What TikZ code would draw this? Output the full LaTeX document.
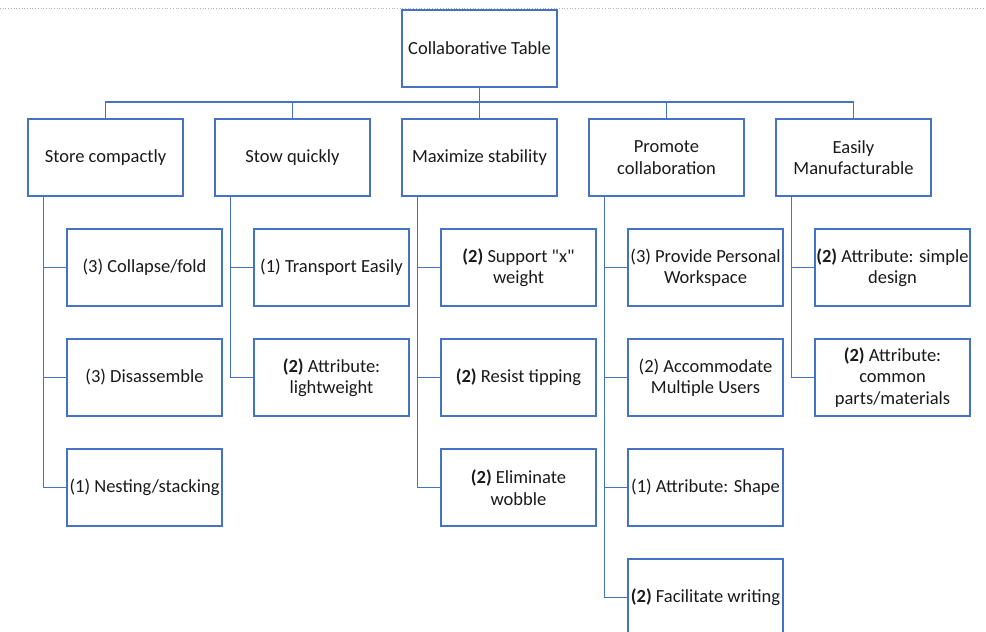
\documentclass[tikz,border=0pt]{standalone}
\usepackage{fontspec}
\setmainfont{Carlito}[Ligatures=TeXOff]
\definecolor{boxblue}{HTML}{4472C4}
\definecolor{txt}{HTML}{1A1A1A}
\begin{document}
\begin{tikzpicture}[x=1pt,y=-1pt,
  box/.style={draw=boxblue, line width=1.3pt, fill=white, rectangle, minimum width=155pt, minimum height=77pt,
    align=center, inner sep=1pt, text=txt, font=\fontsize{18.5}{21.5}\selectfont},
  link/.style={draw=boxblue, line width=1.3pt}]
\useasboundingbox (0,0) rectangle (986,632);
\clip (0,0) rectangle (986,632);
\draw[black!30, line width=0.7pt, dotted] (0,8) -- (986,8);
% root
\node[box] (root) at (479.5,48.5) {Collaborative Table};
% children
\node[box] (c1) at (105.5,157.5) {Store compactly};
\node[box] (c2) at (292.5,157.5) {Stow quickly};
\node[box] (c3) at (479.5,157.5) {Maximize stability};
\node[box] (c4) at (666.5,157.5) {Promote\\collaboration};
\node[box] (c5) at (853.5,157.5) {Easily\\Manufacturable};
% grandchildren
\node[box] (g11) at (144.5,267.5) {(3) Collapse/fold};
\node[box] (g12) at (144.5,377.5) {(3) Disassemble};
\node[box] (g13) at (144.5,487.5) {(1) Nesting/stacking};
\node[box] (g21) at (331.5,267.5) {(1) Transport Easily};
\node[box] (g22) at (331.5,377.5) {\textbf{(2)} Attribute:\\lightweight};
\node[box] (g31) at (518.5,267.5) {\textbf{(2)} Support "x"\\weight};
\node[box] (g32) at (518.5,377.5) {\textbf{(2)} Resist tipping};
\node[box] (g33) at (518.5,487.5) {\textbf{(2)} Eliminate\\wobble};
\node[box] (g41) at (705.5,267.5) {(3) Provide Personal\\Workspace};
\node[box] (g42) at (705.5,377.5) {(2) Accommodate\\Multiple Users};
\node[box] (g43) at (705.5,487.5) {(1) Attribute: Shape};
\node[box] (g44) at (705.5,597.5) {\textbf{(2)} Facilitate writing};
\node[box] (g51) at (892.5,267.5) {\textbf{(2)} Attribute: simple\\design};
\node[box] (g52) at (892.5,377.5) {\textbf{(2)} Attribute:\\common\\parts/materials};
% bus
\coordinate (bus) at (479.5,102);
\draw[link] (root.south) -- (bus);
\foreach \c in {c1,c2,c3,c4,c5} {\draw[link] (bus) -| (\c.north);}
% child to grandchild connectors
\foreach \c/\gs in {c1/{g11,g12,g13}, c2/{g21,g22}, c3/{g31,g32,g33}, c4/{g41,g42,g43,g44}, c5/{g51,g52}} {
  \foreach \g in \gs {\draw[link] ([xshift=16pt]\c.south west) |- (\g.west);}
}
\end{tikzpicture}
\end{document}
